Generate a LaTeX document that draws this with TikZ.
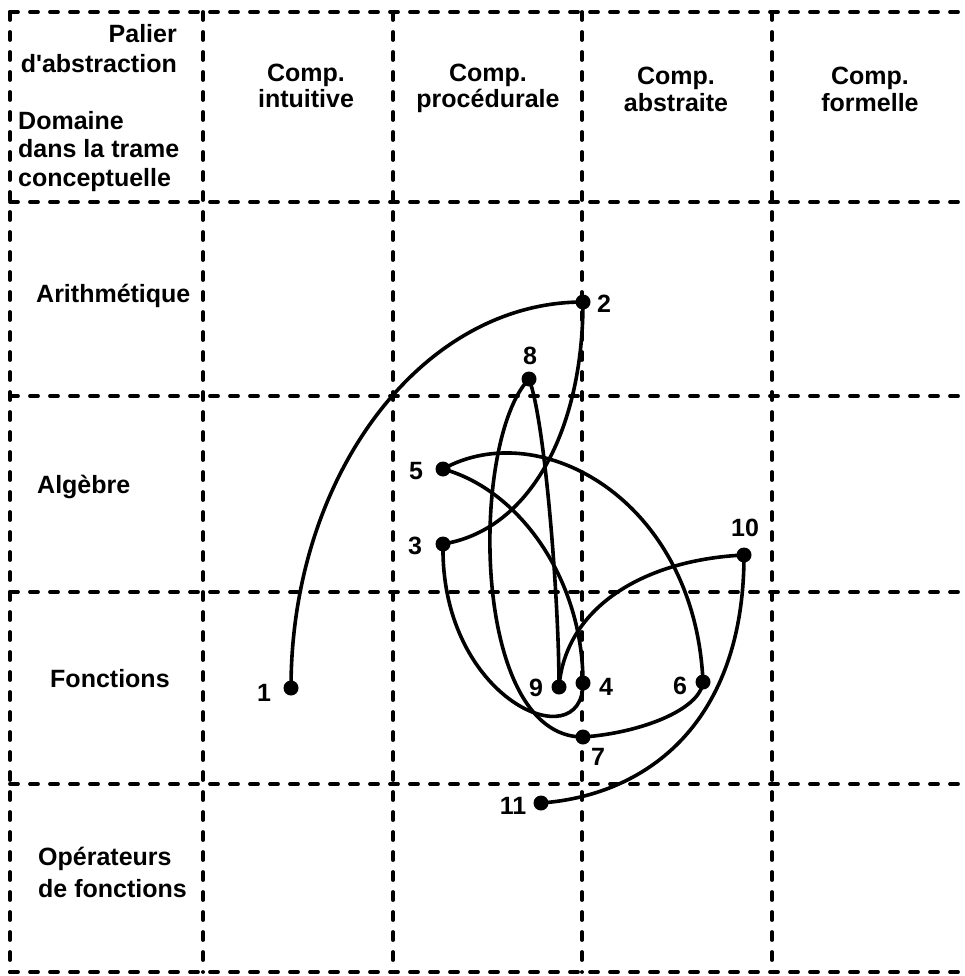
\documentclass[tikz,border=0pt]{standalone}
\usepackage{fontspec}
\setmainfont{Liberation Sans}[BoldFont={Liberation Sans Bold}]
\begin{document}
\begin{tikzpicture}[x=1pt,y=-1pt,
  gridline/.style={line width=3.8pt,dash pattern=on 8pt off 12pt,line cap=round},
  dot/.style={circle,fill=black,inner sep=0pt,minimum size=15pt},
  link/.style={line width=3.6pt},
  txt/.style={font=\fontsize{25}{29}\selectfont\bfseries,inner sep=0pt},
  num/.style={font=\fontsize{25}{29}\selectfont\bfseries,inner sep=0pt}]
\useasboundingbox (0,0) rectangle (964,976);
% grid
\foreach \yy in {12,202,396,592,784,972} \draw[gridline] (10,\yy) -- (964,\yy);
\foreach \xx in {10,203,393,582,772} \draw[gridline] (\xx,12) -- (\xx,972);
% header texts
\node[txt,anchor=base east] (hp1) at (177,43) {Palier};
\node[txt,anchor=base east] (hp2) at (177,73) {d\textquotesingle abstraction};
\node[txt,anchor=base west] (hd1) at (18,130) {Domaine};
\node[txt,anchor=base west] (hd2) at (18,158) {dans la trame};
\node[txt,anchor=base west] (hd3) at (18,187) {conceptuelle};
\node[txt,anchor=base] (c1a) at (306,82) {Comp.};
\node[txt,anchor=base] (c1b) at (306,108) {intuitive};
\node[txt,anchor=base] (c2a) at (488,82) {Comp.};
\node[txt,anchor=base] (c2b) at (488,108) {procédurale};
\node[txt,anchor=base] (c3a) at (676,85) {Comp.};
\node[txt,anchor=base] (c3b) at (676,112) {abstraite};
\node[txt,anchor=base] (c4a) at (870,85) {Comp.};
\node[txt,anchor=base] (c4b) at (870,112) {formelle};
% row labels
\node[txt,anchor=base west] (r1) at (36,302) {Arithmétique};
\node[txt,anchor=base west] (r2) at (37,493) {Algèbre};
\node[txt,anchor=base west] (r3) at (50,687) {Fonctions};
\node[txt,anchor=base west] (r4a) at (38,865) {Opérateurs};
\node[txt,anchor=base west] (r4b) at (38,897) {de fonctions};
% points
\node[dot] (n1) at (291,688) {};
\node[dot] (n2) at (583,302) {};
\node[dot] (n3) at (443,544) {};
\node[dot] (n4) at (583,683) {};
\node[dot] (n5) at (443,469) {};
\node[dot] (n6) at (703,682) {};
\node[dot] (n7) at (583,737) {};
\node[dot] (n8) at (529,379) {};
\node[dot] (n9) at (559,687) {};
\node[dot] (n10) at (744,555) {};
\node[dot] (n11) at (541,803) {};
% point labels
\node[num] (l1) at (264,693) {1};
\node[num] (l2) at (604,304) {2};
\node[num] (l3) at (415,546) {3};
\node[num] (l4) at (606,687) {4};
\node[num] (l5) at (416,471) {5};
\node[num] (l6) at (680,686) {6};
\node[num] (l7) at (598,757) {7};
\node[num] (l8) at (530,356) {8};
\node[num] (l9) at (536,688) {9};
\node[num] (l10) at (745,528) {10};
\node[num] (l11) at (513,806) {11};
% links
\draw[link] (n1.center) .. controls (291,475) and (422,302) .. (n2.center);
\draw[link] (n2.center) .. controls (583,430) and (530,530) .. (n3.center);
\draw[link] (n8.center) .. controls (545,420) and (559,600) .. (n9.center);
\draw[link] (n8.center) .. controls (470,440) and (470,737) .. (n7.center);
\draw[link] (n5.center) .. controls (540,415) and (695,500) .. (n6.center);
\draw[link] (n5.center) .. controls (520,490) and (583,580) .. (n4.center);
\draw[link] (n3.center) .. controls (440,700) and (583,760) .. (n4.center);
\draw[link] (n10.center) .. controls (640,560) and (565,610) .. (n9.center);
\draw[link] (n7.center) .. controls (640,733) and (700,710) .. (n6.center);
\draw[link] (n10.center) .. controls (744,720) and (650,795) .. (n11.center);
\end{tikzpicture}
\end{document}
